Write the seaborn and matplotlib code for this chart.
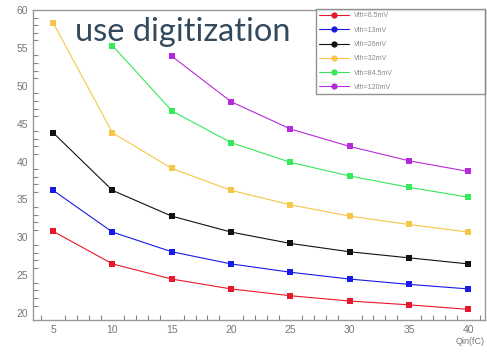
import matplotlib
matplotlib.use("Agg")
import matplotlib.pyplot as plt
from matplotlib.ticker import MultipleLocator
import numpy as np
import pandas as pd
import seaborn as sns

qin = [5, 10, 15, 20, 25, 30, 35, 40]

vth_6_5 = [30.8, 26.5, 24.5, 23.2, 22.3, 21.6, 21.1, 20.5]
vth_13 = [36.2, 30.7, 28.1, 26.5, 25.4, 24.5, 23.8, 23.2]
vth_26 = [43.8, 36.2, 32.8, 30.7, 29.2, 28.1, 27.3, 26.5]
vth_32 = [58.3, 43.8, 39.1, 36.2, 34.3, 32.8, 31.7, 30.7]
vth_84_5 = [None, 55.3, 46.7, 42.5, 39.9, 38.1, 36.6, 35.3]
vth_120 = [None, None, 53.9, 47.9, 44.3, 42.0, 40.1, 38.7]

labels = ["Vth=6.5mV", "Vth=13mV", "Vth=26mV", "Vth=32mV", "Vth=84.5mV", "Vth=120mV"]
series = [vth_6_5, vth_13, vth_26, vth_32, vth_84_5, vth_120]
colors = ["#e8182c", "#1a1ae6", "#111111", "#f7c548", "#36e85a", "#b52bd8"]

rows = []
for lab, vals in zip(labels, series):
    for q, v in zip(qin, vals):
        if v is not None:
            rows.append({"Qin": q, "value": v, "Vth": lab})
df = pd.DataFrame(rows)

sns.set_style("white")
plt.rcParams["font.family"] = ["Liberation Sans", "DejaVu Sans"]

fig = plt.figure(figsize=(4.87, 3.52), dpi=100)
ax = fig.add_axes([33 / 487, 1 - 320 / 352, (485 - 33) / 487, (320 - 10) / 352])

sns.lineplot(data=df, x="Qin", y="value", hue="Vth", hue_order=labels,
             palette=colors, marker="s", markersize=4.6, markeredgewidth=0,
             linewidth=0.8, ax=ax, legend=True)

ax.set_xlim(3.3, 41.4)
ax.set_ylim(19.1, 60)
ax.xaxis.set_major_locator(MultipleLocator(5))
ax.xaxis.set_minor_locator(MultipleLocator(1))
ax.yaxis.set_major_locator(MultipleLocator(5))
ax.yaxis.set_minor_locator(MultipleLocator(1))
ax.tick_params(which="both", direction="in", colors="#888888", labelcolor="#777777",
               labelsize=7.5, width=0.8)
ax.tick_params(which="major", length=7)
ax.tick_params(which="minor", length=3.5)
ax.tick_params(axis="y", which="minor", left=True)
ax.tick_params(axis="x", which="minor", bottom=True)
for s in ax.spines.values():
    s.set_color("#999999")
    s.set_linewidth(1.0)

ax.set_xlabel("")
ax.set_ylabel("")
fig.text(485 / 487, 1 - 341 / 352, "Qin(fC)", ha="right", va="center",
         fontsize=6.5, color="#777777")

# legend box spanning the upper-right corner of the frame
lx0 = (316 - 33) / (485 - 33)
lw = (485 - 316) / (485 - 33)
ly1 = (320 - 9) / (320 - 10)
lh = (92 - 9) / (320 - 10)
leg = ax.legend(loc="upper left", bbox_to_anchor=(lx0, ly1 - lh, lw, lh),
                mode="expand", fontsize=5, frameon=True, fancybox=False,
                borderpad=0.5, labelspacing=1.05, handlelength=4.2,
                handletextpad=0.8, borderaxespad=0.0)
leg.get_frame().set_edgecolor("#777777")
leg.get_frame().set_linewidth(1.0)
for h in leg.legend_handles:
    h.set_markersize(4.5)
    h.set_marker("o")
    h.set_linewidth(0.8)
for t in leg.get_texts():
    t.set_color("#888888")

fig.text(75 / 487, 1 - 32 / 352, "use digitization", ha="left", va="center",
         fontsize=23.5, color="#34495c", family=["Lato", "DejaVu Sans"])

fig.savefig("out.png", dpi=100)
